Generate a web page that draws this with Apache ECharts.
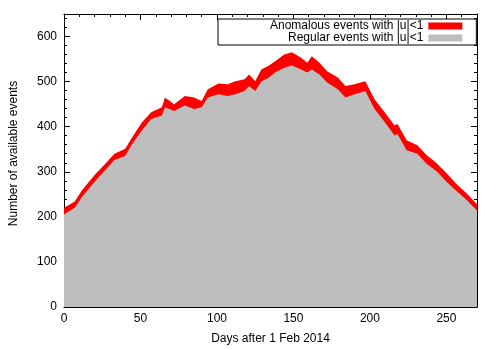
<!DOCTYPE html>
<html>
<head>
<meta charset="utf-8">
<script src="https://cdn.jsdelivr.net/npm/echarts@6/dist/echarts.min.js"></script>
<style>html,body{margin:0;padding:0;background:#fff}#c{width:500px;height:350px}</style>
</head>
<body>
<div id="c"></div>
<script>
const days = [0,7,12,20,27,33,40,44,51,57,64,66,72,79,85,90,94,101,107,112,118,121,125,129,134,138,144,149,155,159,162,167,172,179,184,190,194,197,203,209,216,218,224,231,237,244,250,257,263,270];
const totalEvents = [220,234,260,293,318,340,351,373,410,432,443,465,450,468,465,457,483,496,494,501,505,516,501,527,536,545,560,565,553,542,556,542,523,509,490,494,498,501,461,435,403,406,370,359,337,318,297,271,253,228];
const regularEvents = [205,220,245,278,304,326,335,359,392,417,425,443,435,447,439,443,465,472,468,472,479,490,479,500,509,520,531,536,527,520,527,516,498,483,465,472,476,479,439,413,381,384,348,340,318,300,278,256,238,214];
const seriesNames = ['Anomalous events with |u|<1', 'Regular events with |u|<1'];
const xTicks = [0,50,100,150,200,250];
const yTicks = [0,100,200,300,400,500,600];

const font = 'Liberation Sans, Arial, sans-serif';
const chart = echarts.init(document.getElementById('c'), null, {renderer: 'canvas'});
const axisCommon = {
  type: 'value',
  axisLine: {show: true, onZero: false, lineStyle: {color: '#000', width: 1}},
  axisTick: {show: true, inside: true, length: 6, lineStyle: {color: '#000'}},
  minorTick: {show: true, splitNumber: 5, length: 3, lineStyle: {color: '#000'}},
  splitLine: {show: false},
  axisLabel: {color: '#000', fontFamily: font, fontSize: 12}
};
chart.setOption({
  animation: false,
  backgroundColor: '#fff',
  grid: {left: 62, right: 23, top: 14, bottom: 39, containLabel: false},
  legend: {
    orient: 'vertical', left: 218, top: 19, align: 'right',
    itemWidth: 34, itemHeight: 7, itemGap: 0,
    padding: [1, 14, 1, 52],
    borderColor: '#000', borderWidth: 1, backgroundColor: '#fff',
    icon: 'rect',
    textStyle: {color: '#000', fontFamily: font, fontSize: 12},
    data: seriesNames
  },
  xAxis: [
    Object.assign({}, axisCommon, {min: 0, max: 270, interval: 50, position: 'bottom',
      name: 'Days after 1 Feb 2014', nameLocation: 'middle', nameGap: 26,
      nameTextStyle: {color: '#000', fontFamily: font, fontSize: 12},
      axisLabel: {color: '#000', fontFamily: font, fontSize: 12, margin: 6,
        formatter: v => xTicks.includes(v) ? String(v) : ''}}),
    Object.assign({}, axisCommon, {min: 0, max: 270, interval: 50, position: 'top', axisLabel: {show: false}})
  ],
  yAxis: [
    Object.assign({}, axisCommon, {min: 0, max: 650, interval: 100, position: 'left',
      name: 'Number of available events', nameLocation: 'middle', nameGap: 44,
      nameTextStyle: {color: '#000', fontFamily: font, fontSize: 12, padding: [0, 0, 0, 14]},
      axisLabel: {color: '#000', fontFamily: font, fontSize: 12, margin: 7,
        formatter: v => yTicks.includes(v) ? String(v) : ''}}),
    Object.assign({}, axisCommon, {min: 0, max: 650, interval: 100, position: 'right', axisLabel: {show: false}})
  ],
  series: [
    {
      name: seriesNames[0], type: 'line', showSymbol: false, symbol: 'none',
      data: days.map((d, i) => [d, totalEvents[i]]),
      lineStyle: {width: 0, color: '#ff0000'}, itemStyle: {color: '#ff0000'},
      areaStyle: {color: '#ff0000', opacity: 1}, z: 1
    },
    {
      name: seriesNames[1], type: 'line', showSymbol: false, symbol: 'none',
      data: days.map((d, i) => [d, regularEvents[i]]),
      lineStyle: {width: 0, color: '#bebebe'}, itemStyle: {color: '#bebebe'},
      areaStyle: {color: '#bebebe', opacity: 1}, z: 2
    }
  ]
});
</script>
</body>
</html>
